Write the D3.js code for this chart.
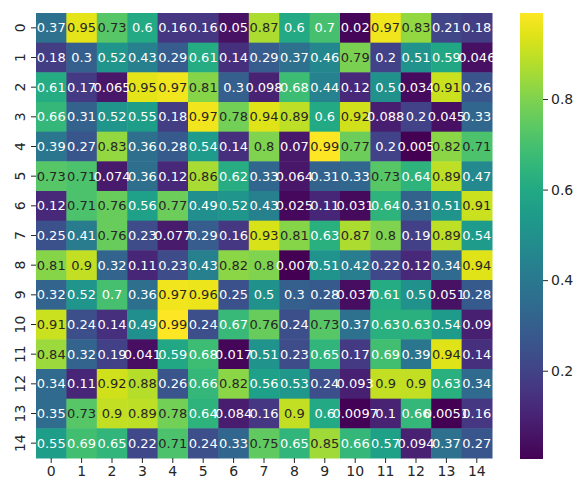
<!DOCTYPE html>
<html>
<head>
<meta charset="utf-8">
<script src="https://cdn.jsdelivr.net/npm/d3@7"></script>
<style>
  body { margin: 0; background: #fff; }
  text { font-family: "DejaVu Sans", sans-serif; }
</style>
</head>
<body>
<div id="chart"></div>
<script>
// rows of the matrix
var row0  = [0.37, 0.95, 0.73, 0.6, 0.16, 0.16, 0.05, 0.87, 0.6, 0.7, 0.02, 0.97, 0.83, 0.21, 0.18];
var row1  = [0.18, 0.3, 0.52, 0.43, 0.29, 0.61, 0.14, 0.29, 0.37, 0.46, 0.79, 0.2, 0.51, 0.59, 0.046];
var row2  = [0.61, 0.17, 0.065, 0.95, 0.97, 0.81, 0.3, 0.098, 0.68, 0.44, 0.12, 0.5, 0.034, 0.91, 0.26];
var row3  = [0.66, 0.31, 0.52, 0.55, 0.18, 0.97, 0.78, 0.94, 0.89, 0.6, 0.92, 0.088, 0.2, 0.045, 0.33];
var row4  = [0.39, 0.27, 0.83, 0.36, 0.28, 0.54, 0.14, 0.8, 0.07, 0.99, 0.77, 0.2, 0.005, 0.82, 0.71];
var row5  = [0.73, 0.71, 0.074, 0.36, 0.12, 0.86, 0.62, 0.33, 0.064, 0.31, 0.33, 0.73, 0.64, 0.89, 0.47];
var row6  = [0.12, 0.71, 0.76, 0.56, 0.77, 0.49, 0.52, 0.43, 0.025, 0.11, 0.031, 0.64, 0.31, 0.51, 0.91];
var row7  = [0.25, 0.41, 0.76, 0.23, 0.077, 0.29, 0.16, 0.93, 0.81, 0.63, 0.87, 0.8, 0.19, 0.89, 0.54];
var row8  = [0.81, 0.9, 0.32, 0.11, 0.23, 0.43, 0.82, 0.8, 0.007, 0.51, 0.42, 0.22, 0.12, 0.34, 0.94];
var row9  = [0.32, 0.52, 0.7, 0.36, 0.97, 0.96, 0.25, 0.5, 0.3, 0.28, 0.037, 0.61, 0.5, 0.051, 0.28];
var row10 = [0.91, 0.24, 0.14, 0.49, 0.99, 0.24, 0.67, 0.76, 0.24, 0.73, 0.37, 0.63, 0.63, 0.54, 0.09];
var row11 = [0.84, 0.32, 0.19, 0.041, 0.59, 0.68, 0.017, 0.51, 0.23, 0.65, 0.17, 0.69, 0.39, 0.94, 0.14];
var row12 = [0.34, 0.11, 0.92, 0.88, 0.26, 0.66, 0.82, 0.56, 0.53, 0.24, 0.093, 0.9, 0.9, 0.63, 0.34];
var row13 = [0.35, 0.73, 0.9, 0.89, 0.78, 0.64, 0.084, 0.16, 0.9, 0.6, 0.0097, 0.1, 0.66, 0.0051, 0.16];
var row14 = [0.55, 0.69, 0.65, 0.22, 0.71, 0.24, 0.33, 0.75, 0.65, 0.85, 0.66, 0.57, 0.094, 0.37, 0.27];

var matrix = [row0, row1, row2, row3, row4, row5, row6, row7, row8, row9, row10, row11, row12, row13, row14];

var xLabels = d3.range(15).map(String),
    yLabels = d3.range(15).map(String);

var colorbarTicks = [0.2, 0.4, 0.6, 0.8];

var width = 579,
    height = 480;

var margin = {top: 13, left: 36, right: 87, bottom: 22};

var svg = d3.select("#chart")
    .append("svg")
    .attr("width", width)
    .attr("height", height);

var plotW = width - margin.left - margin.right,
    plotH = height - margin.top - margin.bottom;

var x = d3.scaleBand().domain(xLabels).range([margin.left, margin.left + plotW]);
var y = d3.scaleBand().domain(yLabels).range([margin.top, margin.top + plotH]);

var all = d3.merge(matrix);
var extent = d3.extent(all);
var color = d3.scaleSequential(d3.interpolateViridis).domain(extent);

// flatten into cells
var cells = [];
matrix.forEach(function(row, i) {
    row.forEach(function(v, j) {
        cells.push({row: i, col: j, value: v});
    });
});

// text colour like seaborn: dark on light cells, white on dark cells
function luminance(c) {
    var rgb = d3.rgb(c);
    var ch = [rgb.r, rgb.g, rgb.b].map(function(v) {
        v = v / 255;
        return v <= 0.03928 ? v / 12.92 : Math.pow((v + 0.055) / 1.055, 2.4);
    });
    return 0.2126 * ch[0] + 0.7152 * ch[1] + 0.0722 * ch[2];
}

svg.selectAll(".cell")
    .data(cells)
    .enter().append("rect")
    .attr("class", "cell")
    .attr("x", function(d) { return x(String(d.col)); })
    .attr("y", function(d) { return y(String(d.row)); })
    .attr("width", x.bandwidth() + 0.5)
    .attr("height", y.bandwidth() + 0.5)
    .attr("fill", function(d) { return color(d.value); });

svg.selectAll(".annot")
    .data(cells)
    .enter().append("text")
    .attr("class", "annot")
    .attr("x", function(d) { return x(String(d.col)) + x.bandwidth() / 2; })
    .attr("y", function(d) { return y(String(d.row)) + y.bandwidth() / 2; })
    .attr("text-anchor", "middle")
    .attr("dominant-baseline", "central")
    .attr("font-size", "13px")
    .attr("fill", function(d) { return luminance(color(d.value)) > 0.408 ? "#262626" : "#fff"; })
    .text(function(d) { return String(d.value); });

// axes
var xAxis = svg.append("g")
    .attr("transform", "translate(0," + (margin.top + plotH) + ")")
    .call(d3.axisBottom(x).tickSize(5).tickPadding(3));
xAxis.select(".domain").remove();
xAxis.selectAll("text").attr("font-size", "14px").attr("fill", "#262626").style("font-family", "DejaVu Sans");
xAxis.selectAll("line").attr("stroke", "#262626");

var yAxis = svg.append("g")
    .attr("transform", "translate(" + margin.left + ",0)")
    .call(d3.axisLeft(y).tickSize(5).tickPadding(3));
yAxis.select(".domain").remove();
yAxis.selectAll("line").attr("stroke", "#262626");
yAxis.selectAll("text")
    .attr("font-size", "14px")
    .attr("fill", "#262626")
    .style("font-family", "DejaVu Sans")
    .attr("x", null).attr("dy", null)
    .attr("text-anchor", "middle")
    .attr("transform", "translate(-16,0) rotate(-90)")
    .attr("dominant-baseline", "central");

// colorbar
var cbX = 520, cbW = 23;
var cbScale = d3.scaleLinear().domain(extent).range([margin.top + plotH + 1, margin.top]);

var defs = svg.append("defs");
var grad = defs.append("linearGradient")
    .attr("id", "cbgrad")
    .attr("x1", "0").attr("y1", "1").attr("x2", "0").attr("y2", "0");
d3.range(0, 1.0001, 0.05).forEach(function(t) {
    grad.append("stop")
        .attr("offset", t)
        .attr("stop-color", d3.interpolateViridis(t));
});

svg.append("rect")
    .attr("x", cbX)
    .attr("y", cbScale(extent[1]))
    .attr("width", cbW)
    .attr("height", cbScale(extent[0]) - cbScale(extent[1]))
    .attr("fill", "url(#cbgrad)");

var cbAxis = svg.append("g")
    .attr("transform", "translate(" + (cbX + cbW) + ",0)")
    .call(d3.axisRight(cbScale).tickValues(colorbarTicks).tickFormat(d3.format(".1f")).tickSize(5).tickPadding(3));
cbAxis.select(".domain").remove();
cbAxis.selectAll("line").attr("stroke", "#262626");
cbAxis.selectAll("text").attr("font-size", "14px").attr("fill", "#262626").style("font-family", "DejaVu Sans");
</script>
</body>
</html>
